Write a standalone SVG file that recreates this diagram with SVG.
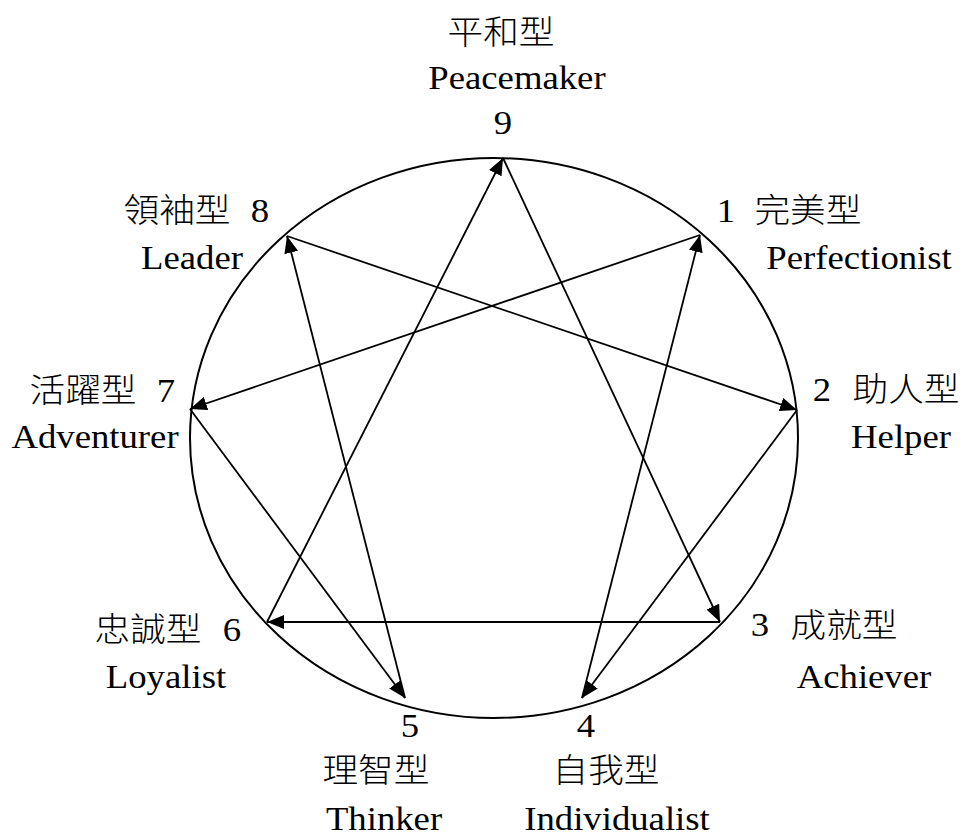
<svg xmlns="http://www.w3.org/2000/svg" width="963" height="837" viewBox="0 0 963 837">
<style>
.t{font-family:"Liberation Serif","Noto Sans CJK TC",serif;font-size:34px;fill:#000;text-anchor:middle}
.c{font-family:"Noto Sans CJK TC","Liberation Serif",sans-serif;font-size:33px;font-weight:300;fill:#000;text-anchor:middle}
.ln{stroke:#000;stroke-width:1.8;fill:none;marker-end:url(#ah)}
</style>
<defs>
<marker id="ah" markerUnits="userSpaceOnUse" markerWidth="18" markerHeight="14" refX="17" refY="7" orient="auto">
<path d="M0,0 L17,7 L0,14 z" fill="#000"/>
</marker>
</defs>
<rect width="963" height="837" fill="#fff"/>
<g id="ring"><ellipse cx="494" cy="438" rx="304" ry="280" fill="none" stroke="#000" stroke-width="2"/></g>
<g id="connectors">
<line class="ln" x1="503" y1="158" x2="720" y2="622"/>
<line class="ln" x1="720" y1="622" x2="267" y2="622"/>
<line class="ln" x1="267" y1="622" x2="503" y2="158"/>
<line class="ln" x1="700" y1="235" x2="190" y2="409"/>
<line class="ln" x1="190" y1="409" x2="405" y2="698"/>
<line class="ln" x1="405" y1="698" x2="287" y2="236"/>
<line class="ln" x1="287" y1="236" x2="797" y2="410"/>
<line class="ln" x1="797" y1="410" x2="582" y2="698"/>
<line class="ln" x1="582" y1="698" x2="700" y2="235"/>
</g>
<g transform="scale(1.08,1)">
<g id="n9"><text class="c" x="463.9" y="44">平和型</text><text class="t" x="478.7" y="89">Peacemaker</text><text class="t" x="465.7" y="134">9</text></g>
<g id="n1"><text class="t" x="672.2" y="222">1</text><text class="c" x="748.1" y="222">完美型</text><text class="t" x="795.4" y="269">Perfectionist</text></g>
<g id="n2"><text class="t" x="761.1" y="401">2</text><text class="c" x="838.9" y="401">助人型</text><text class="t" x="834.3" y="448">Helper</text></g>
<g id="n3"><text class="t" x="703.7" y="636">3</text><text class="c" x="781.5" y="637">成就型</text><text class="t" x="800" y="688">Achiever</text></g>
<g id="n4"><text class="t" x="542.6" y="737">4</text><text class="c" x="561.1" y="782">自我型</text><text class="t" x="571.3" y="830">Individualist</text></g>
<g id="n5"><text class="t" x="379.6" y="737">5</text><text class="c" x="348.1" y="782">理智型</text><text class="t" x="355.6" y="830">Thinker</text></g>
<g id="n6"><text class="c" x="137" y="641">忠誠型</text><text class="t" x="214.8" y="641">6</text><text class="t" x="153.7" y="688">Loyalist</text></g>
<g id="n7"><text class="c" x="76.9" y="402">活躍型</text><text class="t" x="153.7" y="402">7</text><text class="t" x="88" y="448">Adventurer</text></g>
<g id="n8"><text class="c" x="163.9" y="222">領袖型</text><text class="t" x="240.7" y="222">8</text><text class="t" x="177.8" y="269">Leader</text></g>
</g>
</svg>
